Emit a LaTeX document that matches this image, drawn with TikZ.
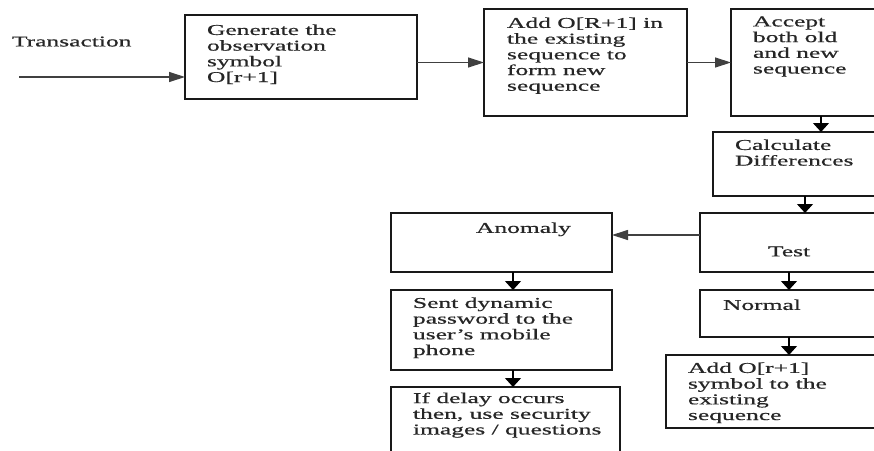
\documentclass[tikz,border=0pt]{standalone}
\usepackage{fontspec}
\setmainfont{Liberation Serif}[FakeStretch=1.7,FakeBold=0.6]
\usetikzlibrary{arrows.meta}
\begin{document}
\begin{tikzpicture}[x=1pt,y=-1pt,
  box/.style={draw=black!90, line width=1.4pt, rectangle, inner sep=0pt, outer sep=0pt, anchor=north west},
  txt/.style={anchor=north west, inner sep=0pt, outer sep=0pt, align=left, font=\fontsize{15}{15.7}\selectfont, text=black!85},
  harrow/.style={draw=black!75, line width=1.2pt, -{Triangle[length=16pt,width=10pt]}},
  varrow/.style={draw=black, line width=1.2pt, -{Triangle[length=9pt,width=16pt]}}
]
\useasboundingbox (0,0) rectangle (874,450);
\clip (0,0) rectangle (874,450);
\fill[white] (0,0) rectangle (874,450);

% boxes
\node[box, minimum width=232pt, minimum height=84pt] (gen) at (185,15) {};
\node[box, minimum width=203pt, minimum height=107pt] (addseq) at (484,9) {};
\node[box, minimum width=160pt, minimum height=107pt] (accept) at (731,9) {};
\node[box, minimum width=180pt, minimum height=64pt] (calc) at (713,132) {};
\node[box, minimum width=190pt, minimum height=59pt] (test) at (700,213) {};
\node[box, minimum width=190pt, minimum height=47pt] (normal) at (700,290) {};
\node[box, minimum width=220pt, minimum height=73pt] (addo) at (666,355) {};
\node[box, minimum width=221pt, minimum height=59pt] (anomaly) at (391,213) {};
\node[box, minimum width=221pt, minimum height=80pt] (sent) at (391,290) {};
\node[box, minimum width=229pt, minimum height=80pt] (delay) at (391,387) {};

% texts
\node[txt] (ttrans) at (12,36.5) {Transaction};
\node[txt] (tgen) at (207,24.5) {Generate the\\observation\\symbol\\O[r+1]};
\node[txt] (tadd) at (507,17.5) {Add O[R+1] in\\the existing\\sequence to\\form new\\sequence};
\node[txt] (tacc) at (753,16.5) {Accept\\both old\\and new\\sequence};
\node[txt] (tcalc) at (735,139.5) {Calculate\\Differences};
\node[txt] (tanom) at (476,222.5) {Anomaly};
\node[txt] (ttest) at (768,246.5) {Test};
\node[txt] (tnorm) at (723,299.5) {Normal};
\node[txt] (taddo) at (688,362.5) {Add O[r+1]\\symbol to the\\existing\\sequence};
\node[txt] (tsent) at (413,297.5) {Sent dynamic\\password to the\\user’s mobile\\phone};
\node[txt] (tdelay) at (413,392.5) {If delay occurs\\then, use security\\images / questions};

% connectors
\coordinate (tstart) at (19,77);
\draw[harrow] (tstart) -- (tstart -| gen.west);
\draw[harrow] (gen.east |- addseq.west) -- (addseq.west);
\draw[harrow] (addseq.east) -- (accept.west |- addseq.east);
\draw[varrow] ([xshift=90pt]accept.south west) -- ([xshift=90pt]accept.south west |- calc.north);
\draw[varrow] ([xshift=92pt]calc.south west) -- ([xshift=92pt]calc.south west |- test.north);
\draw[harrow] ([yshift=-22pt]test.north west) -- ([yshift=-22pt]test.north west -| anomaly.east);
\draw[varrow] ([xshift=89pt]test.south west) -- ([xshift=89pt]test.south west |- normal.north);
\draw[varrow] ([xshift=89pt]normal.south west) -- ([xshift=89pt]normal.south west |- addo.north);
\draw[varrow] ([xshift=122pt]anomaly.south west) -- ([xshift=122pt]anomaly.south west |- sent.north);
\draw[varrow] ([xshift=122pt]sent.south west) -- ([xshift=122pt]sent.south west |- delay.north);
\end{tikzpicture}
\end{document}
